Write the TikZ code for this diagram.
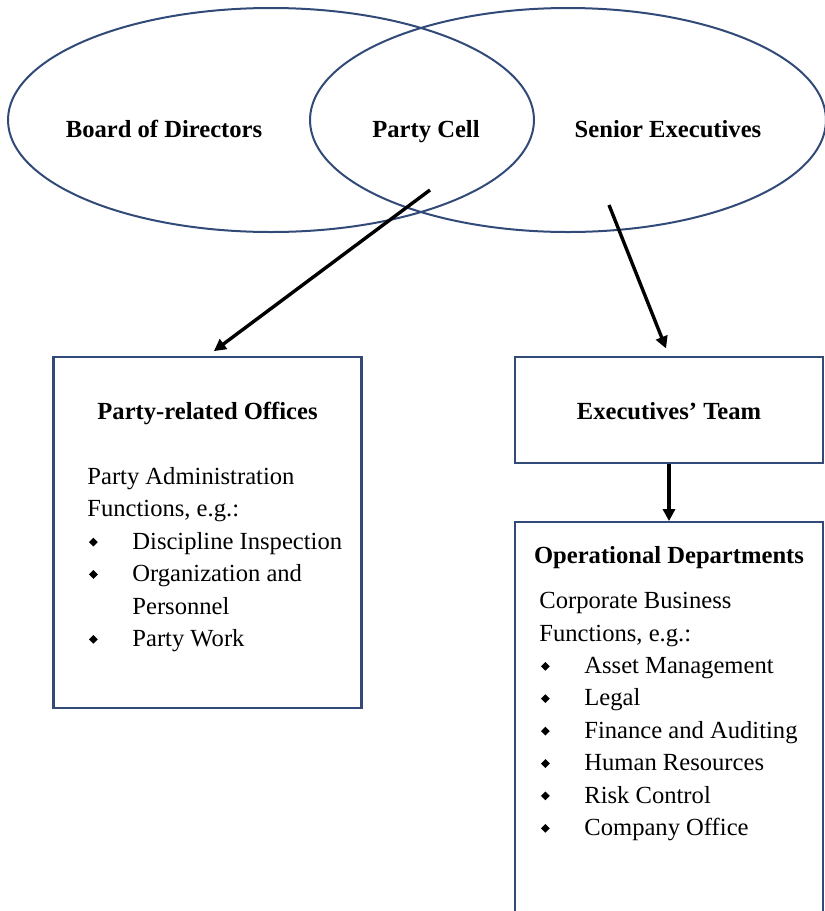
\documentclass[tikz,border=0pt]{standalone}
\usepackage{graphicx}
\usepackage{fontspec}
\setmainfont{Liberation Serif}
\usetikzlibrary{arrows.meta,positioning,shapes.geometric}
\definecolor{rimblue}{RGB}{50,74,120}
\newcommand{\bul}{\makebox[22.5pt][l]{\hspace{0.8pt}\raisebox{1.4pt}{\rotatebox{45}{\rule{3.1pt}{3.1pt}}}}}

\begin{document}
\begin{tikzpicture}[
    x=0.5pt, y=-0.5pt,
    every node/.style={font=\fontsize{12.3pt}{16.2pt}\selectfont, inner sep=0pt},
    oval/.style={draw=rimblue, line width=1pt, ellipse, inner sep=0pt},
    box/.style={draw=rimblue, line width=1.1pt, minimum width=154pt},
    head/.style={font=\fontsize{12.3pt}{16.2pt}\selectfont\bfseries, anchor=base},
    body/.style={align=left, anchor=north west},
    flow/.style={-{Triangle[length=6pt,width=6pt]}, line width=1.7pt}
]
\useasboundingbox (0,0) rectangle (825,911);
\clip (0,0) rectangle (825,911);
% overlapping governance bodies
\node[oval, minimum width=263pt, minimum height=112pt] (board) at (271,120) {};
\node[oval, minimum width=258pt, minimum height=112pt] (senior) at (568,120) {};
\node[head] (boardtext) at (164,137) {Board of Directors};
\node[head] (cell) at (426,137) {Party Cell};
\node[head] (seniortext) at (668,137) {Senior Executives};
% party side
\node[box, minimum height=175.5pt] (offices) at (207.5,532.5) {};
\node[head] (officeshead) at (207.5,419) {Party-related Offices};
\node[body] (officesbody) at (87,467) {Party Administration\\Functions, e.g.:\\\bul Discipline Inspection\\\bul Organization and\\\hspace*{22.5pt}Personnel\\\bul Party Work};
% executive side
\node[box, minimum height=53pt] (exec) at (669,410) {};
\node[head] (exectext) at (669,419) {Executives' Team};
\node[box, minimum height=205pt, below=28.5pt of exec] (ops) {};
\node[head] (opshead) at (669,563) {Operational Departments};
\node[body] (opsbody) at (539,592) {Corporate Business\\Functions, e.g.:\\\bul Asset Management\\\bul Legal\\\bul Finance and Auditing\\\bul Human Resources\\\bul Risk Control\\\bul Company Office};
\coordinate (cellfoot) at (430,190);
\coordinate (seniorfoot) at (609,205);
\draw[flow, shorten >=4pt] (cellfoot) -- (offices.north);
\draw[flow, shorten >=4pt] (seniorfoot) -- (exec.north);
\draw[flow] (exec) -- (ops);
\end{tikzpicture}
\end{document}
